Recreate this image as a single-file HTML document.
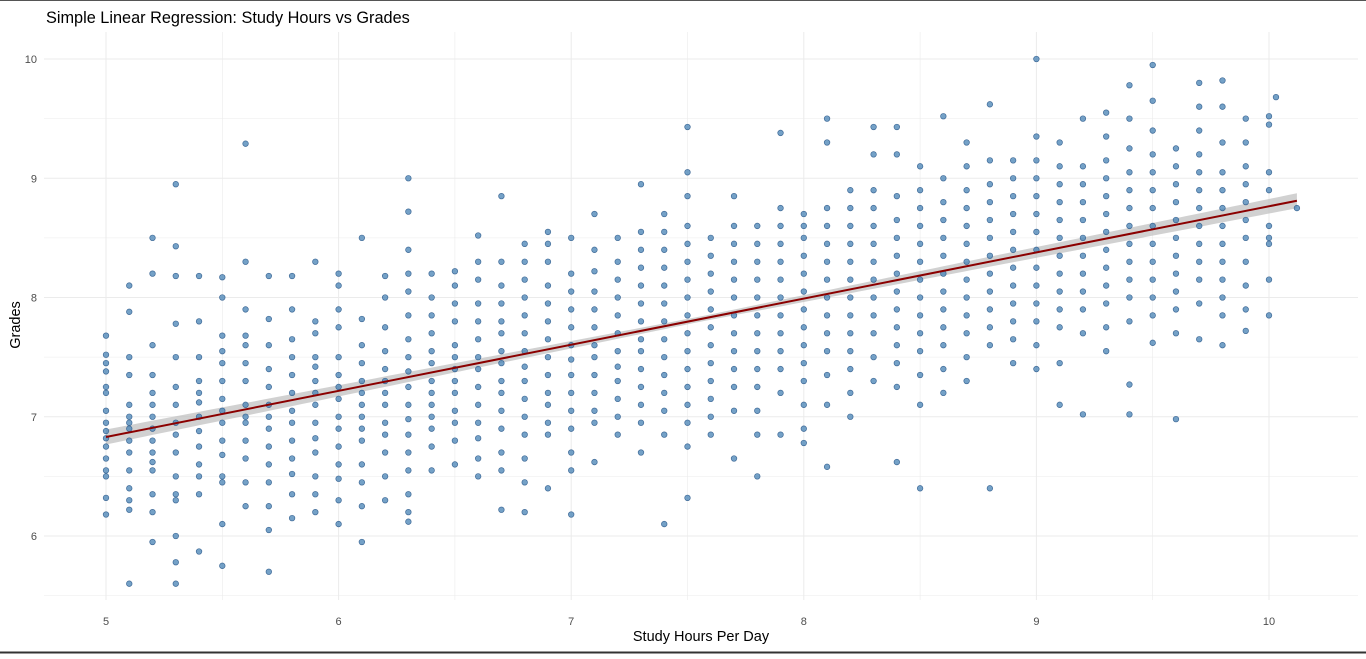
<!DOCTYPE html>
<html><head><meta charset="utf-8"><style>
html,body{margin:0;padding:0;background:#fff;}
body{width:1366px;height:654px;overflow:hidden;font-family:"Liberation Sans",sans-serif;}
</style></head><body>
<svg id="chart" width="1366" height="654" xmlns="http://www.w3.org/2000/svg" font-family="Liberation Sans, sans-serif">
<line x1="0" y1="0.5" x2="1366" y2="0.5" stroke="#555" stroke-width="1"/>
<line x1="0" y1="652.5" x2="1366" y2="652.5" stroke="#333" stroke-width="2"/>
<text x="46" y="23" font-size="16.3" fill="#000">Simple Linear Regression: Study Hours vs Grades</text>
<g id="grid"></g>
<g id="band"></g>
<g id="pts"></g>
<g id="line"></g>
<g id="ticks"></g>
<text x="701" y="641" font-size="14.5" fill="#000" text-anchor="middle">Study Hours Per Day</text>
<text x="20" y="325" font-size="14.5" fill="#000" text-anchor="middle" transform="rotate(-90 20 325)">Grades</text>
</svg>
<script>
const xTicks=[5,6,7,8,9,10];
const yTicks=[6,7,8,9,10];
const colX=[5.0,5.1,5.2,5.3,5.4,5.5,5.6,5.7,5.8,5.9,6.0,6.1,6.2,6.3,6.4,6.5,6.6,6.7,6.8,6.9,7.0,7.1,7.2,7.3,7.4,7.5,7.6,7.7,7.8,7.9,8.0,8.1,8.2,8.3,8.4,8.5,8.6,8.7,8.8,8.9,9.0,9.1,9.2,9.3,9.4,9.5,9.6,9.7,9.8,9.9,10.0,10.03,10.12];
const colGrades=[
[7.68,7.52,7.45,7.25,7.2,7.05,6.95,6.82,6.75,6.65,6.55,6.5,6.32,6.18,7.38,6.88],
[8.1,7.88,7.35,7.1,7.0,6.9,6.8,6.7,6.55,6.4,6.3,6.22,5.6,7.5,6.95],
[8.5,8.2,7.6,7.35,7.2,7.0,6.9,6.8,6.7,6.55,6.35,6.2,5.95,7.1,6.62],
[8.95,8.43,8.18,7.78,7.5,7.25,7.1,6.95,6.85,6.7,6.5,6.35,6.3,6.0,5.78,5.6],
[8.18,7.8,7.5,7.3,7.12,7.0,6.88,6.75,6.6,6.5,6.35,7.2,5.87],
[8.17,8.0,7.68,7.45,7.3,7.15,7.05,6.95,6.8,6.68,6.5,6.45,6.1,5.75,7.55],
[9.29,8.3,7.9,7.6,7.45,7.3,7.1,7.0,6.95,6.8,6.65,6.45,6.25,7.68],
[8.18,7.82,7.6,7.4,7.25,7.1,7.0,6.9,6.75,6.6,6.45,6.25,6.05,5.7],
[8.18,7.9,7.65,7.5,7.35,7.2,7.05,6.95,6.8,6.65,6.52,6.35,6.15],
[8.3,7.8,7.7,7.5,7.42,7.3,7.2,7.1,6.95,6.82,6.7,6.5,6.35,6.2],
[8.2,8.1,7.9,7.75,7.5,7.35,7.25,7.15,7.0,6.9,6.75,6.6,6.48,6.3,6.1],
[8.5,7.82,7.6,7.45,7.3,7.2,7.1,7.0,6.9,6.8,6.6,6.45,6.25,5.95],
[8.18,8.0,7.75,7.55,7.4,7.3,7.2,7.1,6.95,6.85,6.7,6.5,6.3],
[9.0,8.72,8.4,8.2,8.05,7.85,7.65,7.5,7.38,7.25,7.1,6.98,6.85,6.7,6.55,6.35,6.2,6.12],
[8.2,8.0,7.85,7.7,7.55,7.45,7.3,7.2,7.1,7.0,6.9,6.75,6.55],
[8.22,8.1,7.95,7.8,7.6,7.5,7.4,7.3,7.2,7.05,6.95,6.8,6.6],
[8.52,8.3,8.15,7.95,7.8,7.65,7.5,7.4,7.25,7.1,6.95,6.82,6.65,6.5],
[8.85,8.3,8.1,7.95,7.8,7.7,7.55,7.45,7.3,7.2,7.05,6.9,6.7,6.55,6.22],
[8.45,8.3,8.15,8.0,7.85,7.7,7.55,7.42,7.3,7.15,7.0,6.85,6.65,6.45,6.2],
[8.55,8.45,8.3,8.1,7.95,7.8,7.65,7.5,7.35,7.2,7.1,6.95,6.85,6.4],
[8.5,8.2,8.05,7.9,7.75,7.6,7.48,7.35,7.2,7.05,6.9,6.7,6.55,6.18],
[8.7,8.4,8.22,8.05,7.9,7.75,7.6,7.5,7.35,7.2,7.05,6.95,6.62],
[8.5,8.3,8.15,8.0,7.85,7.7,7.55,7.42,7.3,7.15,7.0,6.85],
[8.95,8.55,8.4,8.25,8.1,7.95,7.8,7.65,7.55,7.4,7.25,7.1,6.95,6.7],
[8.7,8.55,8.4,8.25,8.1,7.95,7.8,7.65,7.5,7.35,7.2,7.05,6.85,6.1],
[9.43,9.05,8.85,8.6,8.45,8.3,8.15,8.0,7.85,7.7,7.55,7.4,7.25,7.1,6.95,6.75,6.32],
[8.5,8.35,8.2,8.05,7.9,7.75,7.6,7.45,7.3,7.15,7.0,6.85],
[8.85,8.6,8.45,8.3,8.15,8.0,7.85,7.7,7.55,7.4,7.25,7.05,6.65],
[8.6,8.45,8.3,8.15,8.0,7.85,7.7,7.55,7.4,7.25,7.05,6.85,6.5],
[9.38,8.75,8.6,8.45,8.3,8.15,8.0,7.85,7.7,7.55,7.4,7.2,6.85],
[8.7,8.6,8.5,8.35,8.2,8.05,7.9,7.75,7.6,7.45,7.3,7.1,6.9,6.78],
[9.5,9.3,8.75,8.6,8.45,8.3,8.15,8.0,7.85,7.7,7.55,7.35,7.1,6.58],
[8.9,8.75,8.6,8.45,8.3,8.15,8.0,7.85,7.7,7.55,7.4,7.2,7.0],
[9.43,9.2,8.9,8.75,8.6,8.45,8.3,8.15,8.0,7.85,7.7,7.5,7.3],
[9.43,9.2,8.85,8.65,8.5,8.35,8.2,8.05,7.9,7.75,7.6,7.45,7.25,6.62],
[9.1,8.9,8.75,8.6,8.45,8.3,8.15,8.0,7.85,7.7,7.55,7.35,7.1,6.4],
[9.52,9.0,8.8,8.65,8.5,8.35,8.2,8.05,7.9,7.75,7.6,7.4,7.2],
[9.3,9.1,8.9,8.75,8.6,8.45,8.3,8.15,8.0,7.85,7.7,7.5,7.3],
[9.62,9.15,8.95,8.8,8.65,8.5,8.35,8.2,8.05,7.9,7.75,7.6,6.4],
[9.15,9.0,8.85,8.7,8.55,8.4,8.25,8.1,7.95,7.8,7.65,7.45],
[10.0,9.35,9.15,9.0,8.85,8.7,8.55,8.4,8.25,8.1,7.95,7.8,7.6,7.4],
[9.3,9.1,8.95,8.8,8.65,8.5,8.35,8.2,8.05,7.9,7.75,7.45,7.1],
[9.5,9.1,8.95,8.8,8.65,8.5,8.35,8.2,8.05,7.9,7.7,7.02],
[9.55,9.35,9.15,9.0,8.85,8.7,8.55,8.4,8.25,8.1,7.95,7.75,7.55],
[9.78,9.5,9.25,9.05,8.9,8.75,8.6,8.45,8.3,8.15,8.0,7.8,7.27,7.02],
[9.95,9.65,9.4,9.2,9.05,8.9,8.75,8.6,8.45,8.3,8.15,8.0,7.85,7.62],
[9.25,9.1,8.95,8.8,8.65,8.5,8.35,8.2,8.05,7.9,7.7,6.98],
[9.8,9.6,9.4,9.2,9.05,8.9,8.75,8.6,8.45,8.3,8.15,7.95,7.65],
[9.82,9.6,9.3,9.05,8.9,8.75,8.6,8.45,8.3,8.15,8.0,7.85,7.6],
[9.5,9.3,9.1,8.95,8.8,8.65,8.5,8.3,8.1,7.9,7.72],
[9.52,9.45,9.05,8.9,8.6,8.5,8.45,8.15,7.85],
[9.68],
[8.75]
];
const fitIntercept=4.895, fitSlope=0.387;
const fitRange=[5,10.12];

const NS='http://www.w3.org/2000/svg';
const sx=v=>106+(v-5)*232.6;
const sy=v=>59+(10-v)*119.25;
function mk(tag,attrs,parent){const e=document.createElementNS(NS,tag);for(const k in attrs)e.setAttribute(k,attrs[k]);parent.appendChild(e);return e;}
const G=document.getElementById('grid'),T=document.getElementById('ticks');
const L=44,R=1358,TOP=32,BOT=600;
for(let v=4.5;v<=10.5;v+=0.5){const x=sx(v);if(x<L||x>R)continue;
 const ln=mk('line',{x1:x,x2:x,y1:TOP,y2:BOT,stroke:'#ebebeb','stroke-width':Number.isInteger(v)?1:0.6},G);
 }
for(let v=5.5;v<=10.5;v+=0.5){const y=sy(v);if(y<TOP||y>BOT)continue;
 const ln=mk('line',{x1:L,x2:R,y1:y,y2:y,stroke:'#ebebeb','stroke-width':Number.isInteger(v)?1:0.6},G);
 }
xTicks.forEach(v=>{const t=mk('text',{x:sx(v),y:625,'font-size':11,fill:'#4d4d4d','text-anchor':'middle'},T);t.textContent=v;
 });
yTicks.forEach(v=>{const t=mk('text',{x:37,y:sy(v)+4,'font-size':11,fill:'#4d4d4d','text-anchor':'end'},T);t.textContent=v;
 });
const P=document.getElementById('pts');
colX.forEach((x,i)=>{colGrades[i].forEach(g=>{
 const c=mk('circle',{cx:sx(x),cy:sy(g),r:2.8,fill:'rgba(70,130,180,0.75)',stroke:'rgba(45,90,140,0.85)','stroke-width':0.7},P);
 });});
const f=x=>fitIntercept+fitSlope*x;
const se=x=>0.022+0.016*Math.abs(x-7.56);
let up=[],dn=[];
for(let x=fitRange[0];x<=fitRange[1]+1e-9;x+=0.04){up.push(sx(x)+','+sy(f(x)+se(x)));dn.unshift(sx(x)+','+sy(f(x)-se(x)));}
const poly=mk('polygon',{points:up.concat(dn).join(' '),fill:'#bdbdbd','fill-opacity':0.7},document.getElementById('band'));

const rl=mk('line',{x1:sx(fitRange[0]),y1:sy(f(fitRange[0])),x2:sx(fitRange[1]),y2:sy(f(fitRange[1])),stroke:'#8b0000','stroke-width':2},document.getElementById('line'));

</script>
</body></html>
